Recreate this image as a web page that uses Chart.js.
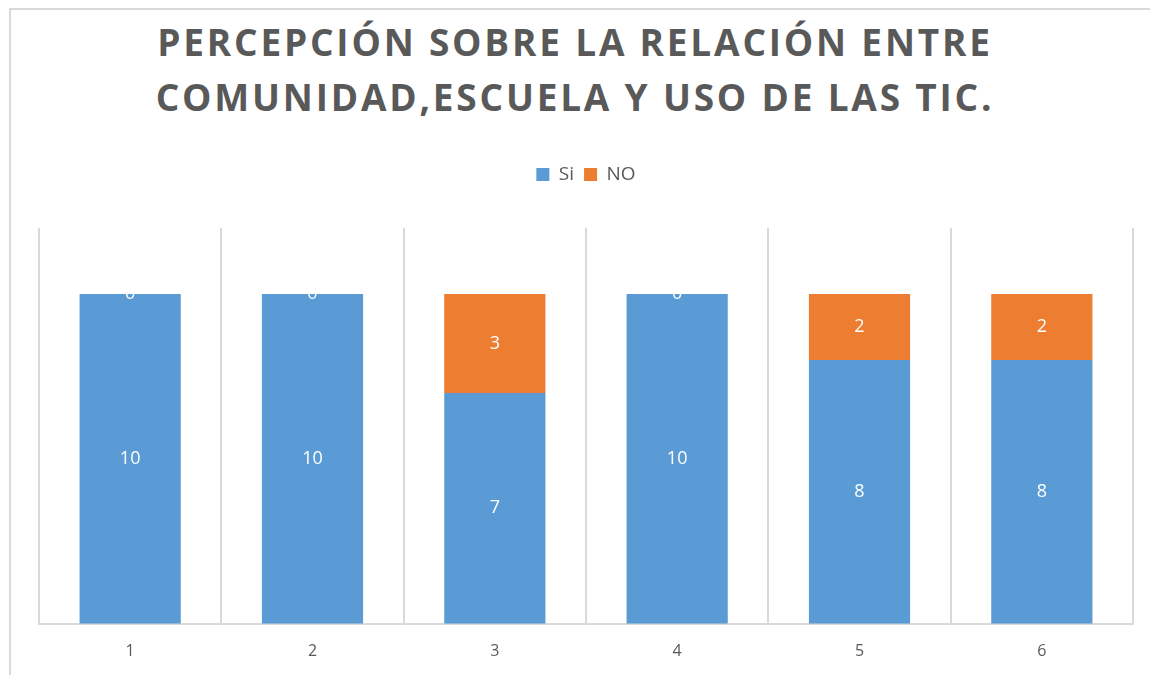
<!DOCTYPE html>
<html>
<head>
<meta charset="utf-8">
<script src="https://cdn.jsdelivr.net/npm/chart.js@4.4.1/dist/chart.umd.min.js"></script>
<style>
  html, body { margin: 0; padding: 0; background: #fff; }
  #wrap { position: relative; width: 1150px; height: 675px; overflow: hidden; }
  #frame { position: absolute; left: 9px; top: 8px; width: 1160px; height: 700px; border: 2px solid #d9d9d9; box-sizing: border-box; }
  #title {
    position: absolute; left: 0; top: 14px; width: 1150px; text-align: center;
    font-family: 'Open Sans', sans-serif; font-weight: 700; font-size: 37px; line-height: 55px;
    letter-spacing: 2.8px; color: #595959;
  }
  canvas { position: absolute; left: 0; top: 0; }
</style>
</head>
<body>
<div id="wrap">
  <div id="frame"></div>
  <div id="title">PERCEPCIÓN SOBRE LA RELACIÓN ENTRE<br>COMUNIDAD,ESCUELA Y USO DE LAS TIC.</div>
  <canvas id="chart" width="1150" height="694"></canvas>
</div>
<script>
const categories = ['1', '2', '3', '4', '5', '6'];
const siValues   = [10, 10, 7, 10, 8, 8];
const noValues   = [0, 0, 3, 0, 2, 2];

const GRAY = '#595959';

// white value labels in the middle of each segment
const segmentLabels = {
  id: 'segmentLabels',
  afterDatasetsDraw(chart) {
    const ctx = chart.ctx;
    ctx.save();
    ctx.fillStyle = '#ffffff';
    ctx.font = '18px "Open Sans", sans-serif';
    ctx.textAlign = 'center';
    ctx.textBaseline = 'middle';
    chart.data.datasets.forEach((ds, i) => {
      chart.getDatasetMeta(i).data.forEach((bar, j) => {
        const y = (bar.y + bar.base) / 2;
        ctx.fillText(String(ds.data[j]), bar.x, y);
      });
    });
    ctx.restore();
  }
};

// extra space under the legend
const legendGap = {
  id: 'legendGap',
  beforeInit(chart) {
    const fit = chart.legend.fit;
    chart.legend.fit = function () {
      fit.bind(chart.legend)();
      this.height += 34;
    };
  }
};

new Chart(document.getElementById('chart'), {
  type: 'bar',
  data: {
    labels: categories,
    datasets: [
      { label: 'Si', data: siValues, backgroundColor: '#5B9BD5', barPercentage: 0.555, categoryPercentage: 1 },
      { label: 'NO', data: noValues, backgroundColor: '#ED7D31', barPercentage: 0.555, categoryPercentage: 1 },
    ],
  },
  options: {
    responsive: false,
    animation: false,
    layout: { padding: { top: 155, left: 39, right: 17, bottom: 15 } },
    plugins: {
      legend: {
        labels: { color: GRAY, boxWidth: 13, boxHeight: 13, padding: 10, font: { family: 'Open Sans', size: 19 } },
      },
      tooltip: { enabled: false },
    },
    scales: {
      x: {
        stacked: true,
        grid: { color: '#d9d9d9', lineWidth: 2, drawTicks: false },
        border: { color: '#d9d9d9', width: 2 },
        ticks: { color: GRAY, padding: 18, font: { family: 'Open Sans', size: 16 } },
      },
      y: { stacked: true, display: false, min: 0, max: 12 },
    },
  },
  plugins: [segmentLabels, legendGap],
});
</script>
</body>
</html>
